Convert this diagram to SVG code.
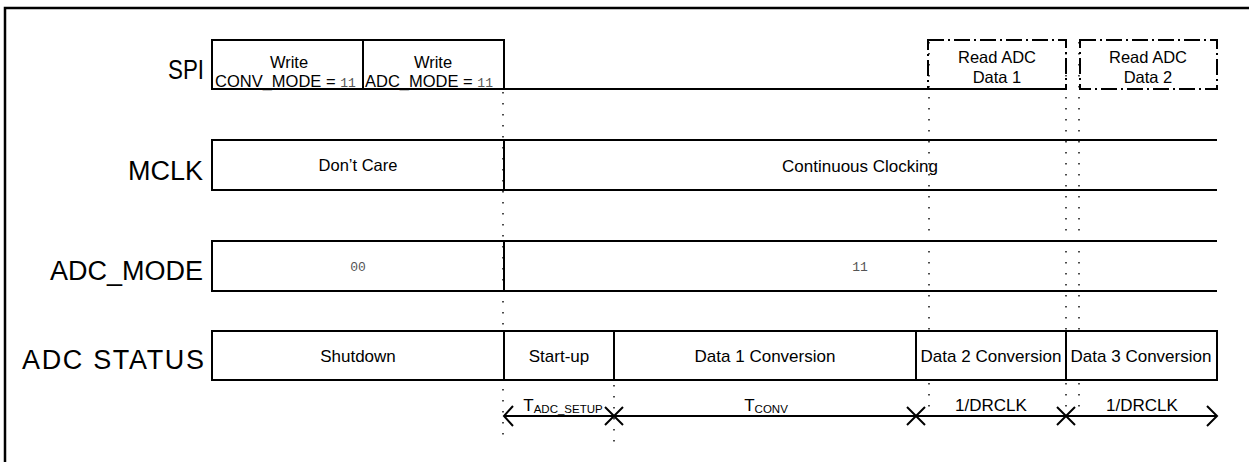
<svg xmlns="http://www.w3.org/2000/svg" width="1249" height="462" viewBox="0 0 1249 462">
<style>
.box{fill:#fff;stroke:#000;stroke-width:2}
.ln{fill:none;stroke:#000;stroke-width:2}
.dd{fill:none;stroke:#000;stroke-width:2;stroke-dasharray:16 4 2 4}
.dot{fill:none;stroke:#000;stroke-width:1.4;stroke-dasharray:1.4 9.6}
.lab{font-family:"Liberation Sans",Arial,sans-serif;font-size:27px;text-anchor:end;fill:#000}
.t{font-family:"Liberation Sans",Arial,sans-serif;font-size:16.5px;text-anchor:middle;fill:#000}
.m{font-family:"Liberation Mono","Courier New",monospace;font-size:13px;fill:#555}
.tm{font-family:"Liberation Sans",Arial,sans-serif;font-size:17px;text-anchor:middle;fill:#000}
.sub{font-size:11.5px}
</style>
<rect x="0" y="0" width="1249" height="462" fill="#fff"/>
<rect x="5" y="8" width="1260" height="470" fill="none" stroke="#000" stroke-width="2.5"/>

<g id="labels">
<text class="lab" x="204" y="79" textLength="36" lengthAdjust="spacingAndGlyphs">SPI</text>
<text class="lab" x="203" y="180">MCLK</text>
<text class="lab" x="203" y="280">ADC_MODE</text>
<text class="lab" x="204" y="369" textLength="182" lengthAdjust="spacing">ADC STATUS</text>
</g>

<g id="connectors">
<line class="dot" x1="503" y1="92" x2="503" y2="442"/>
<line class="dot" x1="614" y1="385" x2="614" y2="442"/>
<line class="dot" x1="929" y1="42" x2="929" y2="408"/>
<line class="dot" x1="1066" y1="42" x2="1066" y2="408"/>
<line class="dot" x1="1079" y1="42" x2="1079" y2="408"/>
<line class="ln" x1="504" y1="416" x2="1217" y2="416"/>
<polyline class="ln" points="513,406 504,416 513,426"/>
<polyline class="ln" points="1207,406 1217,416 1207,426"/>
<path class="ln" d="M605,407 L623,425 M623,407 L605,425"/>
<path class="ln" d="M907,407 L925,425 M925,407 L907,425"/>
<path class="ln" d="M1057,407 L1075,425 M1075,407 L1057,425"/>
<text class="tm" x="563" y="411">T<tspan class="sub" dy="2">ADC_SETUP</tspan></text>
<text class="tm" x="766" y="411">T<tspan class="sub" dy="2">CONV</tspan></text>
<text class="tm" x="991" y="411">1/DRCLK</text>
<text class="tm" x="1142" y="411">1/DRCLK</text>
</g>

<g id="spi">
<rect class="box" x="212" y="40" width="151" height="49"/>
<rect class="box" x="363" y="40" width="141" height="49"/>
<line class="ln" x1="504" y1="89" x2="1066" y2="89"/>
<text class="t" x="289" y="68">Write</text>
<text class="t" x="215" y="87" style="text-anchor:start">CONV_MODE = <tspan class="m">11</tspan></text>
<text class="t" x="433" y="68">Write</text>
<text class="t" x="365" y="87" style="text-anchor:start">ADC_MODE = <tspan class="m">11</tspan></text>
</g>

<g id="read1">
<rect class="dd" x="928" y="40" width="138" height="49"/>
<text class="t" x="997" y="63">Read ADC</text>
<text class="t" x="997" y="83">Data 1</text>
</g>
<g id="read2">
<rect class="dd" x="1080" y="40" width="137" height="49"/>
<text class="t" x="1148" y="63">Read ADC</text>
<text class="t" x="1148" y="83">Data 2</text>
</g>

<g id="mclk">
<path class="ln" d="M1217,140 H212 V190 H1217 M504,140 V190"/>
<text class="t" x="358" y="171">Don’t Care</text>
<text class="tm" x="860" y="172">Continuous Clocking</text>
</g>

<g id="adcmode">
<path class="ln" d="M1217,241 H212 V291 H1217 M504,241 V291"/>
<text class="m" x="358" y="271" text-anchor="middle">00</text>
<text class="m" x="860" y="271" text-anchor="middle">11</text>
</g>

<g id="status">
<rect class="box" x="212" y="331" width="1005" height="49"/>
<path class="ln" d="M504,331 V380 M614,331 V380 M916,331 V380 M1066,331 V380"/>
<text class="tm" x="358" y="362">Shutdown</text>
<text class="tm" x="559" y="362">Start-up</text>
<text class="tm" x="765" y="362">Data 1 Conversion</text>
<text class="tm" x="991" y="362">Data 2 Conversion</text>
<text class="tm" x="1141" y="362">Data 3 Conversion</text>
</g>
</svg>
